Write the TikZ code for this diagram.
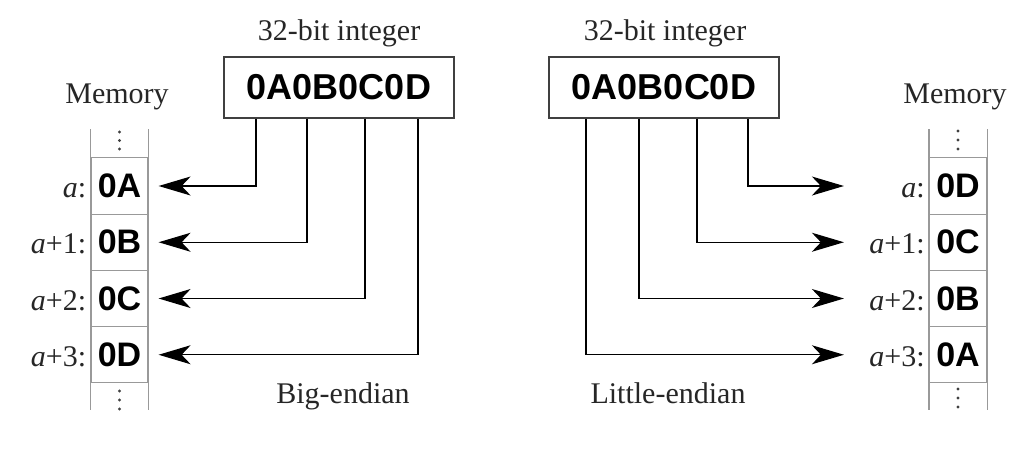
\documentclass[tikz,border=0pt]{standalone}
\usepackage{fontspec}
\setmainfont{Liberation Serif}
\newfontfamily\hexfont{Liberation Sans}
\usetikzlibrary{arrows.meta}
\begin{document}
\begin{tikzpicture}[x=1pt,y=-1pt,
  hex/.style={font=\hexfont\bfseries\fontsize{36}{40}\selectfont, draw=black!75, line width=1.3pt, minimum width=230pt, minimum height=61pt, inner sep=0pt},
  cell/.style={draw=black!40, line width=1.2pt, minimum width=57pt, minimum height=56.25pt, inner sep=0pt, font=\hexfont\bfseries\fontsize{34}{36}\selectfont},
  col/.style={draw=black!40, line width=1.2pt},
  lbl/.style={font=\fontsize{30}{34}\selectfont, text=black!85, inner sep=0pt},
  addr/.style={lbl, anchor=base east, xshift=-4pt},
  arr/.style={line width=1.3pt, -{Stealth[length=32pt,width=19pt,inset=9pt]}},
  dotc/.style={fill=black!75}]
\useasboundingbox (0,0) rectangle (1014,467);

% ---------- Big-endian (left) ----------
\node[hex] (L) at (339,87.5) {0A0B0C0D};
\node[lbl, anchor=base] (Lt) at (339,40) {32-bit integer};
\node[lbl, anchor=base] (Lm) at (117,103) {Memory};
\node[lbl, anchor=base] (BE) at (343,403) {Big-endian};

\node[cell] (L0) at (119.5,186) {0A};
\node[cell] (L1) at (119.5,242.25) {0B};
\node[cell] (L2) at (119.5,298.5) {0C};
\node[cell] (L3) at (119.5,354.75) {0D};
\draw[col] ([yshift=28pt]L0.north west) -- ([yshift=-27pt]L3.south west);
\draw[col] ([yshift=28pt]L0.north east) -- ([yshift=-27pt]L3.south east);
\foreach \y in {132,140.5,149,391,400,409} \fill[dotc] (119.5,\y) circle (1.6);

\node[addr] (La0) at (L0.base west) {\textit{a}:};
\node[addr] (La1) at (L1.base west) {\textit{a}+1:};
\node[addr] (La2) at (L2.base west) {\textit{a}+2:};
\node[addr] (La3) at (L3.base west) {\textit{a}+3:};

\draw[arr, shorten >=10pt] ([xshift=-83pt]L.south) |- (L0.east);
\draw[arr, shorten >=10pt] ([xshift=-32pt]L.south) |- (L1.east);
\draw[arr, shorten >=10pt] ([xshift=26pt]L.south) |- (L2.east);
\draw[arr, shorten >=10pt] ([xshift=79pt]L.south) |- (L3.east);

% ---------- Little-endian (right) ----------
\node[hex] (R) at (664,87.5) {0A0B0C0D};
\node[lbl, anchor=base] (Rt) at (665,40) {32-bit integer};
\node[lbl, anchor=base] (Rm) at (955,103) {Memory};
\node[lbl, anchor=base] (LE) at (668,403) {Little-endian};

\node[cell] (R0) at (958,186) {0D};
\node[cell] (R1) at (958,242.25) {0C};
\node[cell] (R2) at (958,298.5) {0B};
\node[cell] (R3) at (958,354.75) {0A};
\draw[col] ([yshift=28pt]R0.north west) -- ([yshift=-27pt]R3.south west);
\draw[col] ([yshift=28pt]R0.north east) -- ([yshift=-27pt]R3.south east);
\foreach \y in {131,140,149,389,398,407} \fill[dotc] (958,\y) circle (1.6);

\node[addr] (Ra0) at (R0.base west) {\textit{a}:};
\node[addr] (Ra1) at (R1.base west) {\textit{a}+1:};
\node[addr] (Ra2) at (R2.base west) {\textit{a}+2:};
\node[addr] (Ra3) at (R3.base west) {\textit{a}+3:};

\draw[arr, shorten >=85pt] ([xshift=84pt]R.south) |- (R0.west);
\draw[arr, shorten >=85pt] ([xshift=33pt]R.south) |- (R1.west);
\draw[arr, shorten >=85pt] ([xshift=-25pt]R.south) |- (R2.west);
\draw[arr, shorten >=85pt] ([xshift=-78pt]R.south) |- (R3.west);
\end{tikzpicture}
\end{document}
